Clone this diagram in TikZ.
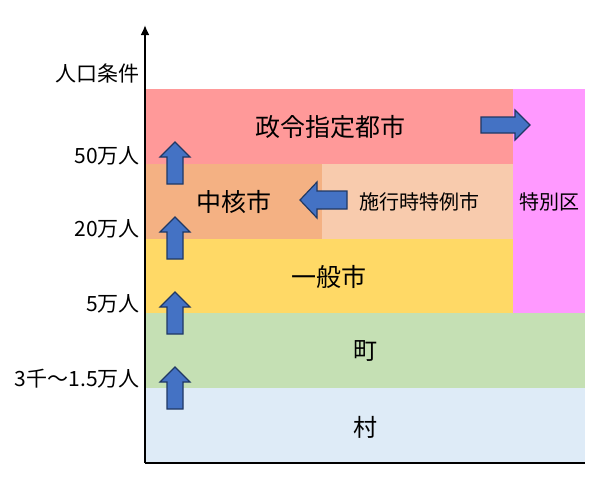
\documentclass[tikz,border=0pt]{standalone}
\usepackage{fontspec}
\usetikzlibrary{arrows.meta}
\setmainfont{Noto Sans CJK JP}
\begin{document}
\begin{tikzpicture}[x=1pt,y=-1pt,
 lab/.style={font=\fontsize{21}{21}\selectfont,anchor=east,inner sep=1pt},
 ar/.style={fill={rgb,255:red,68;green,114;blue,196}, draw={rgb,255:red,32;green,56;blue,100}, line width=1.2pt, line join=miter}]
\useasboundingbox (0,0) rectangle (609,483);
\definecolor{c1}{HTML}{FF9999}\definecolor{c2}{HTML}{FF99FF}\definecolor{c3}{HTML}{F4B183}
\definecolor{c4}{HTML}{F8CBAD}\definecolor{c5}{HTML}{FFD966}\definecolor{c6}{HTML}{C5E0B4}\definecolor{c7}{HTML}{DEEBF7}
\fill[c1] (145,89) rectangle (513,164);
\fill[c2] (513,89) rectangle (585,313);
\fill[c3] (145,164) rectangle (322,239);
\fill[c4] (322,164) rectangle (513,239);
\fill[c5] (145,239) rectangle (513,313);
\fill[c6] (145,313) rectangle (585,388);
\fill[c7] (145,388) rectangle (585,463);
\node[font=\fontsize{25}{25}\selectfont] (seirei) at (330,127) {政令指定都市};
\node[font=\fontsize{20}{20}\selectfont] (tokubetsu) at (549,202) {特別区};
\node[font=\fontsize{25}{25}\selectfont] (chukaku) at (234,202) {中核市};
\node[font=\fontsize{20}{20}\selectfont] (shiko) at (419,202) {施行時特例市};
\node[font=\fontsize{25}{25}\selectfont] (ippan) at (329,277) {一般市};
\node[font=\fontsize{24}{24}\selectfont] (machi) at (365,351) {町};
\node[font=\fontsize{24}{24}\selectfont] (mura) at (365,427) {村};
\node[lab] (l0) at (141,73) {人口条件};
\node[lab] (l1) at (141,156) {50万人};
\node[lab] (l2) at (141,229) {20万人};
\node[lab] (l3) at (141,304) {5万人};
\node[lab] (l4) at (141,379) {3千～1.5万人};
\coordinate (o) at (145,463);
\coordinate (top) at (145,25);
\coordinate (xr) at (585,463);
\draw[line width=2.5pt,-{Latex[length=10pt,width=9pt]}] (o) -- (top);
\draw[line width=2.5pt] (o) -- (xr);
\foreach \y in {142,217,292,367}{
 \draw[ar,shift={(175,\y)}] (0,0) -- (15,15) -- (8,15) -- (8,42) -- (-8,42) -- (-8,15) -- (-15,15) -- cycle;}
\draw[ar,shift={(530,125)}] (0,0) -- (-15,-15) -- (-15,-8) -- (-49,-8) -- (-49,8) -- (-15,8) -- (-15,15) -- cycle;
\draw[ar,shift={(300,200)}] (0,0) -- (17,-18) -- (17,-9) -- (47,-9) -- (47,9) -- (17,9) -- (17,18) -- cycle;
\end{tikzpicture}
\end{document}
